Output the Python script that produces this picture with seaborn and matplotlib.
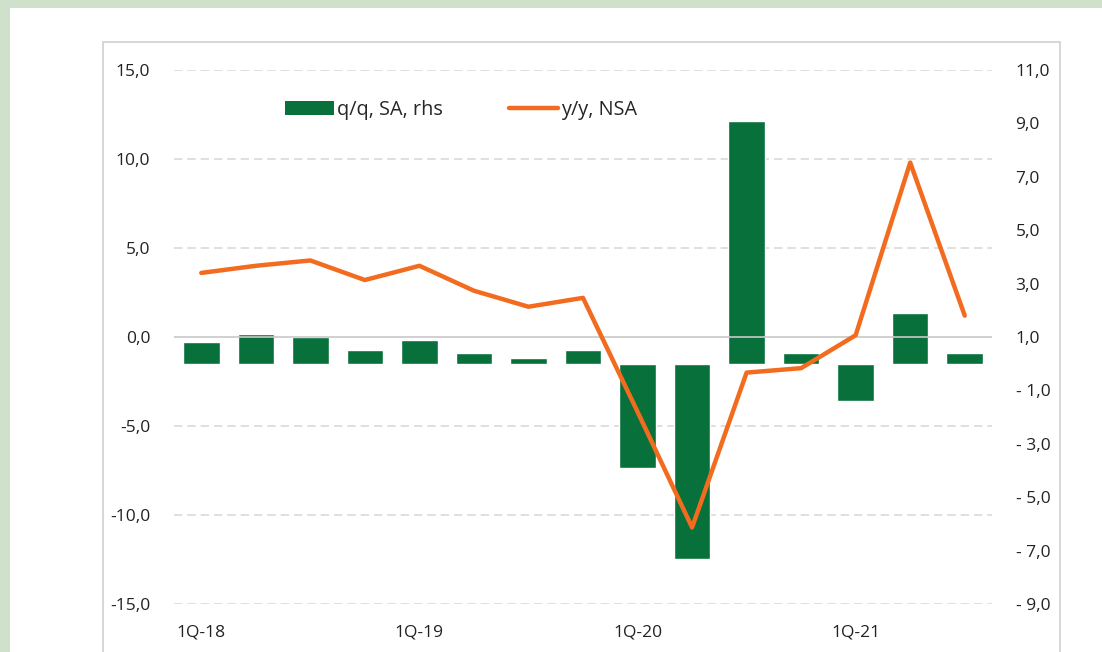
import numpy as np
import pandas as pd
import matplotlib
matplotlib.use("Agg")
import matplotlib.pyplot as plt
from matplotlib.patches import Rectangle, Patch
from matplotlib.lines import Line2D
import seaborn as sns

# ── data ─────────────────────────────────────────────────────
quarters = ['1Q-18', '2Q-18', '3Q-18', '4Q-18',
            '1Q-19', '2Q-19', '3Q-19', '4Q-19',
            '1Q-20', '2Q-20', '3Q-20', '4Q-20',
            '1Q-21', '2Q-21', '3Q-21']
qq_sa = [0.8, 1.1, 1.0, 0.5, 0.9, 0.4, 0.2, 0.5,
         -3.9, -7.3, 9.1, 0.4, -1.4, 1.9, 0.4]          # rhs, bars
yy_nsa = [3.6, 4.0, 4.3, 3.2, 4.0, 2.6, 1.7, 2.2,
          -4.2, -10.7, -2.0, -1.75, 0.1, 9.8, 1.2]       # lhs, line
tick_quarters = ['1Q-18', '1Q-19', '1Q-20', '1Q-21']

GREEN = '#08703b'
ORANGE = '#f26b1f'
GRID = '#d9d9d9'

sns.set_style('white')
plt.rcParams['font.family'] = ['Open Sans', 'DejaVu Sans']
plt.rcParams['font.size'] = 12

W, H = 1102, 652
fig = plt.figure(figsize=(W / 100, H / 100), dpi=100)

# outer frame: pale green margin + grey chart-area border
fig.patches.append(Rectangle((0, 0), 1, 1, transform=fig.transFigure,
                             facecolor='#cfe0cb', edgecolor='none', zorder=-3))
fig.patches.append(Rectangle((10 / W, 0), 1, 1 - 8 / H, transform=fig.transFigure,
                             facecolor='white', edgecolor='none', zorder=-2))
fig.patches.append(Rectangle((103 / W, -0.1), (1060 - 103) / W, 0.1 + (H - 42) / H,
                             transform=fig.transFigure, facecolor='none',
                             edgecolor='#d0d0d0', linewidth=1.2, zorder=-1))

x0, x1, y0, y1 = 174, 992, 70, 604
ax = fig.add_axes([x0 / W, 1 - y1 / H, (x1 - x0) / W, (y1 - y0) / H])
ax2 = ax.twinx()

df = pd.DataFrame({'quarter': quarters, 'qq': qq_sa, 'yy': yy_nsa,
                   'pos': np.arange(len(quarters))})

L_MIN, L_MAX = -15, 15
R_MIN, R_MAX = -9, 11

# dashed grid (left-axis levels) drawn behind the bars
left_ticks = np.arange(L_MIN, L_MAX + 1, 5)
for v in left_ticks:
    if v != 0:
        rv = R_MIN + (v - L_MIN) * (R_MAX - R_MIN) / (L_MAX - L_MIN)
        ax2.axhline(rv, color=GRID, linewidth=1.2, linestyle=(0, (5, 3)), zorder=0)

# bars on right axis
sns.barplot(data=df, x='quarter', y='qq', order=quarters, color=GREEN,
            saturation=1, width=0.67, ax=ax2, zorder=2)
# line on left axis
ax.axhline(0, color='#c8c8c8', linewidth=1.2, zorder=0.5)
sns.lineplot(data=df, x='pos', y='yy', color=ORANGE, linewidth=3.2, ax=ax)

ax.set_zorder(ax2.get_zorder() + 1)
ax.patch.set_visible(False)

ax.set_xlim(-0.5, len(quarters) - 0.5)
ax.set_ylim(L_MIN, L_MAX)
ax2.set_ylim(R_MIN, R_MAX)

right_ticks = np.arange(R_MIN, R_MAX + 1, 2)
ax.set_yticks(left_ticks)
ax.set_yticklabels([f'{v:.1f}'.replace('.', ',') for v in left_ticks])
ax2.set_yticks(right_ticks)
ax2.set_yticklabels([(f'- {abs(v):.1f}' if v < 0 else f'{v:.1f}').replace('.', ',')
                     for v in right_ticks])

ax.set_xticks([quarters.index(q) for q in tick_quarters])
ax.set_xticklabels(tick_quarters)

for a in (ax, ax2):
    for s in a.spines.values():
        s.set_visible(False)
    a.set_xlabel('')
    a.set_ylabel('')
ax.tick_params(axis='y', length=0, pad=17, labelsize=12.5, colors='#222222')
ax2.tick_params(axis='y', length=0, pad=17, labelsize=12.5, colors='#222222')
ax.tick_params(axis='x', length=0, pad=15, labelsize=12.5, colors='#222222')

handles = [Patch(facecolor=GREEN, edgecolor='none', label='q/q, SA, rhs'),
           Line2D([0], [0], color=ORANGE, linewidth=3.2, label='y/y, NSA')]
ax.legend(handles=handles, loc='center', bbox_to_anchor=(0.351, 0.925),
          ncol=2, frameon=False, fontsize=14.3, handlelength=2.5,
          handleheight=0.65, handletextpad=0.15, columnspacing=3.3)

plt.savefig('out.png', dpi=100)
